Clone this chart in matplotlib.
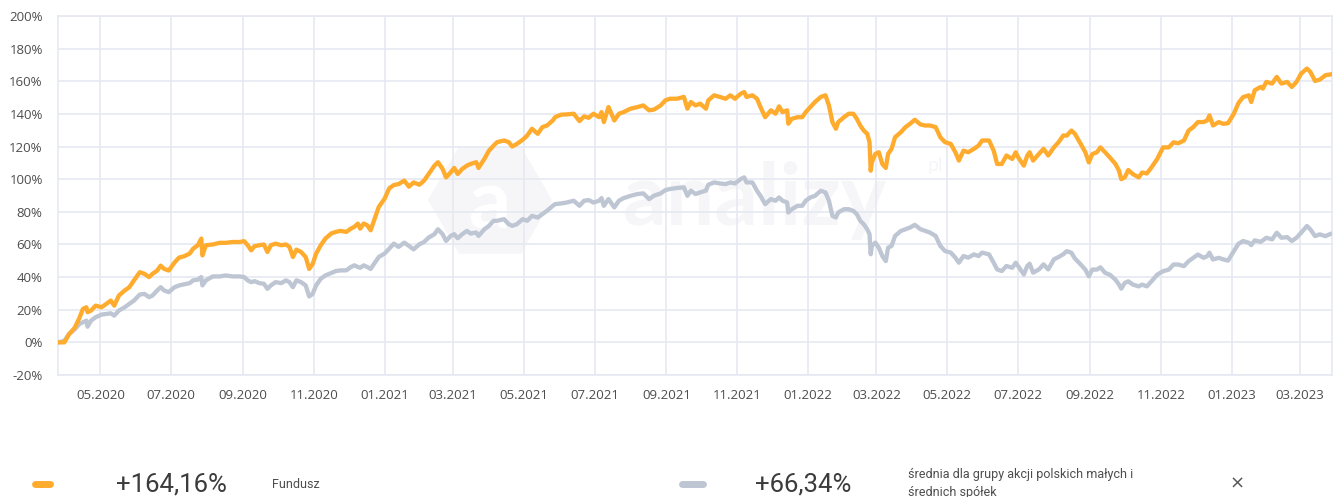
import matplotlib
matplotlib.use("Agg")
import matplotlib.pyplot as plt
import matplotlib.dates as mdates
from matplotlib.patches import Polygon
import numpy as np
import pandas as pd

# ---------------- data ----------------
start_date = "2020-03-26"

days = [
    0, 5, 9, 14, 18, 21, 24, 25, 28, 32, 37, 41, 45, 48, 52, 57, 61, 65, 70, 74,
    78, 81, 85, 88, 91, 95, 100, 104, 108, 113, 116, 120, 123, 124, 127, 133, 139, 144, 150, 156,
    160, 163, 166, 169, 173, 177, 180, 183, 187, 192, 196, 199, 202, 205, 209, 213, 216, 219, 222, 226,
    230, 235, 239, 243, 248, 252, 255, 258, 260, 263, 266, 269, 272, 276, 281, 285, 289,
    293, 298, 302, 306, 311, 315, 319, 324, 327, 331, 334, 338, 341, 344, 348, 352, 355, 360, 362, 367,
    371, 375, 378, 384, 388, 391, 395, 400, 404, 408, 413, 417, 421, 426, 428, 433, 438, 444, 449, 453,
    457, 461, 466, 468, 470, 474, 479, 483, 487, 493, 499, 504, 509, 513, 519, 523, 527, 533, 539, 542,
    545, 549, 553, 558, 560, 565, 570, 575, 579,
    583, 588, 591, 593, 598, 602, 605, 609, 614, 618, 621, 624, 628, 629, 632, 637, 641, 644, 648, 652,
    657, 661, 664, 667, 670, 672, 677, 681, 685, 688, 691, 694, 697, 699, 700, 701, 704, 707, 710, 713,
    715, 718, 721, 726, 730, 734, 738, 743, 747, 751, 756, 760, 764, 769, 773, 776, 780, 784, 789, 793,
    796, 802, 806, 809, 813, 817, 822, 825, 827, 832, 835, 837, 840, 845, 849, 853, 858, 862, 866,
    869, 873, 876, 881, 885, 888, 891, 895, 898, 902, 906, 911, 914, 916, 919, 922, 926, 931, 934, 938,
    942, 947, 952, 957, 961, 965, 970, 974, 978, 982, 987, 990, 992, 995, 1000, 1004, 1008, 1013, 1017, 1021,
    1026, 1028, 1031, 1036, 1038, 1041, 1046, 1050, 1054, 1059, 1063, 1067, 1071, 1076, 1079, 1083, 1087, 1092, 1096,
]

fund = [
    0, 0, 5, 9, 15, 20.5, 21.5, 18.5, 19.5, 22.5, 21.5, 23.5, 25.6, 22.5, 28.7, 31.8, 33.8, 38, 43, 42,
    40, 42, 44, 47, 45, 44, 49, 52, 52.7, 54.4, 57.4, 59.5, 63.6, 53.3, 59.5, 60, 61, 61, 61.5, 61.5,
    62, 59.5, 56.4, 59, 59.5, 60, 55.4, 59.5, 60.5, 59.5, 60, 58.5, 52.3, 56.8, 55.4, 52.3, 45, 48, 54.4, 59.5,
    63.6, 66.7, 67.7, 68.3, 67.7, 69.7, 70.8, 72.8, 69.7, 72.8, 71.8, 68.7, 74.9, 83, 88, 94.4, 96.4,
    97, 99.1, 95.4, 98, 96.6, 99.1, 103.2, 108.3, 110.4, 106.3, 101.1, 104.2, 106.9, 103.2, 106.3, 108.3, 109.3, 110.4, 106.9, 112.4,
    117.5, 120.6, 122.7, 123.7, 122.7, 120, 121.6, 124.1, 126.8, 130.9, 127.8, 131.9, 132.9, 136, 138, 139.5, 139.7, 140.1, 135.6, 138.5,
    137.6, 140.1, 138, 141.1, 135, 144.2, 136, 140.1, 141.1, 143.2, 144.2, 145.2, 142.2, 142.6, 145.2, 148.3, 149.3, 149.3, 150.4, 143.2,
    147.3, 145.2, 146.3, 143.2, 148.3, 151.4, 150.4, 149.3, 151.4,
    149.3, 152.4, 153.4, 150.4, 151.4, 149.3, 144.2, 138, 142.2, 140.1, 144.6, 141.1, 142.2, 134, 137, 138, 138, 141.1, 144.2, 147.3,
    150.4, 151.4, 145.2, 135, 130.9, 135, 138, 140.1, 140.1, 137, 132.9, 129.8, 127.8, 122.7, 105.2, 110.4, 115.5, 116.5, 109.3, 106.9,
    115.5, 118.6, 125.7, 128.8, 131.9, 134, 136.4, 133.5, 132.9, 132.9, 131.9, 125.7, 122.7, 121.6, 116.5, 111.4, 117.5, 116.5, 118.6, 120.6,
    123.7, 123.7, 117.5, 109.3, 109.3, 114.5, 112.4, 116.5, 113.5, 108.3, 114.5, 116.5, 111.4, 115.5, 118.6, 114.5, 119.6, 122.7, 126.8,
    126.7, 129.8, 127.8, 121.6, 116.5, 110.3, 115.4, 116.5, 119.5, 116.5, 113.4, 109.3, 105.2, 100, 101.1, 105.6, 103.1, 101.1, 104.1, 103.5,
    107.2, 112.4, 119.5, 119.5, 122.6, 122, 123.7, 129.8, 131.9, 135, 135, 136, 139.1, 132.9, 135, 133.9, 134.3, 140.1, 146.7, 150.3,
    151.4, 147.3, 154.5, 156.5, 155.5, 159.6, 158.6, 162.7, 158.6, 159.6, 156.5, 159.6, 164.7, 167.8, 165.7, 160.2, 161, 163.7, 164.16,
]

group_avg = [
    0, 1, 5, 8, 11.3, 12.3, 13.3, 9.6, 13.3, 15.4, 17, 17.4, 17.8, 16.4, 19.5, 21.5, 23.6, 25.6, 29.3, 29.7,
    27.7, 28.7, 31.8, 33.8, 31.8, 30.8, 33.8, 34.9, 35.5, 36.3, 38, 38.4, 40, 34.9, 38, 40.4, 40.4, 41, 40.4, 40.4,
    40, 38, 36.9, 37.5, 36.3, 35.9, 32.8, 34.9, 36.9, 36.3, 38, 36.9, 33.8, 38, 36.9, 34.9, 28.1, 29.7, 34.9, 39,
    41, 42.5, 43.7, 44.1, 44.1, 46.2, 47.2, 46.2, 45.7, 47.2, 46.2, 45, 48.2, 52.3, 54.4, 57.4, 60.5,
    58.5, 61.1, 59.1, 57, 60.1, 61.5, 64.2, 66.3, 69.3, 66.3, 62.2, 65.2, 66.3, 63.8, 66.3, 68.3, 66.7, 67.3, 65.2, 69.3,
    71.4, 74.5, 74.5, 75.5, 72.4, 71.4, 72.4, 75.5, 74.5, 77.5, 76.5, 78.6, 80.6, 83.7, 84.7, 85.1, 85.7, 86.8, 83.7, 86.8,
    87.2, 85.7, 86.8, 88.4, 83.7, 87.8, 82.7, 86.8, 88.4, 89.8, 90.9, 91.3, 87.8, 89.8, 91.3, 93.3, 94, 94.6, 95, 89.8,
    93, 90.9, 91.9, 93, 96.6, 98, 97.4, 97, 98,
    97.4, 100.1, 101.1, 98, 98, 92.9, 89.8, 84.7, 87.8, 86.8, 88.8, 86.8, 85.7, 79.6, 81.6, 83.7, 83.7, 86.8, 88.8, 89.8,
    92.9, 91.9, 86.8, 77.5, 76.5, 79.6, 81.6, 81.6, 80.6, 78.6, 74.5, 72.4, 69.3, 66.3, 54, 59.1, 61.1, 58, 52.9, 49.8,
    58, 59.1, 65.2, 68.3, 69.3, 70.4, 72, 69.3, 68.3, 67.3, 65.2, 59.1, 56, 55, 51.9, 48.8, 52.9, 51.9, 53.9, 52.9,
    55, 53.9, 48.8, 44.7, 43.7, 46.8, 45.7, 48.8, 46.8, 41.6, 46.8, 48.2, 42.7, 44.7, 47.8, 44.7, 50.9, 52.3, 54,
    55.9, 54.9, 51.4, 47.7, 44.6, 40.5, 44.6, 44.6, 46, 42.6, 41.5, 38.4, 35.4, 32.9, 36.4, 37.4, 35.4, 34.3, 35.4, 34.3,
    37.4, 41.5, 43.6, 44.6, 47.7, 47.7, 46.7, 49.7, 51.8, 53.8, 51.8, 52.8, 54.9, 50.8, 51.8, 50.8, 50.1, 55.9, 60.4, 62.1,
    61, 59.6, 62.5, 61.6, 62.5, 64.1, 63.1, 67.2, 64.1, 64.5, 62.1, 64.1, 67.2, 71.3, 69.2, 65.1, 66.2, 65.1, 66.34,
]

fund_label = "Fundusz"
fund_total = "+164,16%"
group_label = "średnia dla grupy akcji polskich małych i\nśrednich spółek"
group_total = "+66,34%"
watermark = "analizy"

y_ticks = [-20, 0, 20, 40, 60, 80, 100, 120, 140, 160, 180, 200]

# ---------------- plot ----------------
dates = pd.Timestamp(start_date) + pd.to_timedelta(days, unit="D")

ORANGE = "#FFAB2E"
GRAY = "#BEC5D3"
GRID = "#E6E9F1"
TEXT = "#4d4d4d"
WM = "#f6f6f8"

fig = plt.figure(figsize=(13.39, 4.97), dpi=100)

# faint watermark in a background axes (drawn below the chart)
bg = fig.add_axes([0, 0, 1, 1], zorder=-5)
bg.set_axis_off()
bg.set_xlim(0, 1339)
bg.set_ylim(497, 0)
ang = np.deg2rad(np.arange(0, 360, 60))
hexagon = Polygon(np.column_stack([490 + 62 * np.cos(ang), 200 + 62 * np.sin(ang)]),
                  closed=True, facecolor=WM, edgecolor="none")
bg.add_patch(hexagon)
bg.text(490, 205, "a", fontsize=60, fontweight="bold", color="white",
        ha="center", va="center", family="Lato")
bg.text(755, 200, watermark, fontsize=62, fontweight="bold", color=WM,
        ha="center", va="center", family="Lato")
bg.text(935, 165, "pl", fontsize=14, color=WM, ha="center", va="center", family="Lato")

ax = fig.add_axes([0.0433, 0.2455, 0.9512, 0.7223])
ax.set_facecolor("none")

ax.plot(dates, group_avg, color=GRAY, lw=3.1, solid_joinstyle="round", zorder=3)
ax.plot(dates, fund, color=ORANGE, lw=3.1, solid_joinstyle="round", zorder=4)

ax.set_xlim(dates[0] - pd.Timedelta(days=0.5), dates[-1] + pd.Timedelta(days=1.3))
ax.set_ylim(-20, 200)
ax.set_yticks(y_ticks)
ax.set_yticklabels([f"{v}%" for v in y_ticks])

ax.xaxis.set_major_locator(mdates.MonthLocator(bymonth=[1, 3, 5, 7, 9, 11]))
ax.xaxis.set_major_formatter(mdates.DateFormatter("%m.%Y"))

ax.grid(True, color=GRID, lw=1.2, zorder=0)
ax.set_axisbelow(True)
for s in ax.spines.values():
    s.set_color(GRID)
    s.set_linewidth(1.2)
ax.tick_params(axis="both", length=0, colors=TEXT, labelsize=9.5)
ax.tick_params(axis="x", pad=10)
ax.tick_params(axis="y", pad=11)
for lab in ax.get_xticklabels() + ax.get_yticklabels():
    lab.set_family("Open Sans")

# legend at bottom
fig.add_artist(plt.Line2D([0.026, 0.037], [0.026, 0.026], transform=fig.transFigure,
                          color=ORANGE, lw=5, solid_capstyle="round"))
fig.text(0.087, 0.026, fund_total, fontsize=18.5, color="#3c3c3c", family="Roboto",
         ha="left", va="center")
fig.text(0.203, 0.026, fund_label, fontsize=9, color=TEXT, family="Roboto",
         ha="left", va="center")
fig.add_artist(plt.Line2D([0.509, 0.525], [0.026, 0.026], transform=fig.transFigure,
                          color=GRAY, lw=5, solid_capstyle="round"))
fig.text(0.564, 0.026, group_total, fontsize=18.5, color="#3c3c3c", family="Roboto",
         ha="left", va="center")
fig.text(0.678, 0.058, group_label, fontsize=9, color=TEXT, family="Roboto",
         ha="left", va="top", linespacing=1.45)
fig.text(0.924, 0.028, "×", fontsize=13, color="#555555", family="DejaVu Sans",
         ha="center", va="center")

fig.savefig("out.png", dpi=100)
